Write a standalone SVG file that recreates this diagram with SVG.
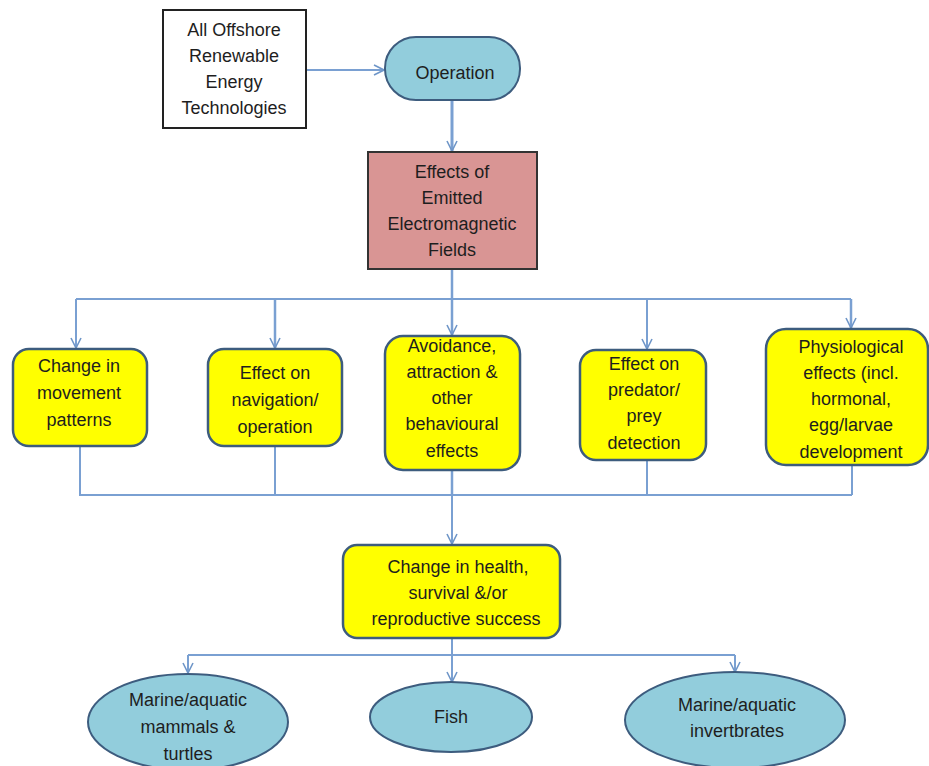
<svg xmlns="http://www.w3.org/2000/svg" width="929" height="766" viewBox="0 0 929 766">
<defs>
<marker id="arr" viewBox="0 0 12 12" refX="11" refY="6" markerWidth="12" markerHeight="12" markerUnits="userSpaceOnUse" orient="auto">
<path d="M1,1 L11,6 L1,11" fill="none" stroke="#6f96c8" stroke-width="1.6"/>
</marker>
<style>
.t{font-family:"Liberation Sans",Arial,sans-serif;font-size:18px;fill:#1e1e1e;text-anchor:middle}
.c{fill:none;stroke:#7aa0d2;stroke-width:2}
.y{fill:#ffff00;stroke:#3d5c7e;stroke-width:2.5}
.b{fill:#92cddc;stroke:#3d5c7e;stroke-width:2}
</style>
</defs>
<rect width="929" height="766" fill="#ffffff"/>
<g id="connectors">
<path class="c" d="M306,70 L384,70" marker-end="url(#arr)"/>
<path class="c" d="M452,100 L452,151" style="stroke-width:3" marker-end="url(#arr)"/>
<path class="c" d="M452,269 L452,299" style="stroke-width:2.5"/>
<path class="c" d="M76,299 L851,299"/>
<path class="c" d="M76,299 L76,348" marker-end="url(#arr)"/>
<path class="c" d="M275,299 L275,348" style="stroke-width:2.5" marker-end="url(#arr)"/>
<path class="c" d="M452,299 L452,335" style="stroke-width:2.5" marker-end="url(#arr)"/>
<path class="c" d="M647,299 L647,349" marker-end="url(#arr)"/>
<path class="c" d="M851,299 L851,328" style="stroke-width:2.5" marker-end="url(#arr)"/>
<path class="c" d="M80,446 L80,495 L852,495"/>
<path class="c" d="M275,446 L275,495"/>
<path class="c" d="M452,470 L452,495" style="stroke-width:2.5"/>
<path class="c" d="M647,460 L647,495"/>
<path class="c" d="M852,465 L852,495"/>
<path class="c" d="M452,495 L452,544" marker-end="url(#arr)"/>
<path class="c" d="M452,638 L452,682" marker-end="url(#arr)"/>
<path class="c" d="M188,655 L735,655"/>
<path class="c" d="M188,655 L188,673" marker-end="url(#arr)"/>
<path class="c" d="M735,655 L735,672" marker-end="url(#arr)"/>
</g>
<g id="n-tech">
<rect x="163" y="10" width="143" height="118" fill="#ffffff" stroke="#222" stroke-width="2"/>
<text class="t" x="234" y="36">All Offshore</text>
<text class="t" x="234" y="62">Renewable</text>
<text class="t" x="234" y="88">Energy</text>
<text class="t" x="234" y="114">Technologies</text>
</g>
<g id="n-operation">
<rect x="385" y="37" width="135" height="63" rx="31" ry="31" class="b"/>
<text class="t" x="455" y="79">Operation</text>
</g>
<g id="n-emf">
<rect x="368" y="152" width="169" height="117" fill="#d99594" stroke="#333" stroke-width="2"/>
<text class="t" x="452" y="178">Effects of</text>
<text class="t" x="452" y="204">Emitted</text>
<text class="t" x="452" y="230">Electromagnetic</text>
<text class="t" x="452" y="256">Fields</text>
</g>
<g id="n-movement">
<rect x="13" y="349" width="134" height="97" rx="16" class="y"/>
<text class="t" x="79" y="372">Change in</text>
<text class="t" x="79" y="399">movement</text>
<text class="t" x="79" y="426">patterns</text>
</g>
<g id="n-navigation">
<rect x="208" y="349" width="134" height="97" rx="16" class="y"/>
<text class="t" x="275" y="379">Effect on</text>
<text class="t" x="275" y="406">navigation/</text>
<text class="t" x="275" y="433">operation</text>
</g>
<g id="n-avoidance">
<rect x="385" y="336" width="135" height="134" rx="18" class="y"/>
<text class="t" x="452" y="352">Avoidance,</text>
<text class="t" x="452" y="378">attraction &amp;</text>
<text class="t" x="452" y="404">other</text>
<text class="t" x="452" y="430">behavioural</text>
<text class="t" x="452" y="457">effects</text>
</g>
<g id="n-predator">
<rect x="580" y="350" width="126" height="110" rx="16" class="y"/>
<text class="t" x="644" y="370">Effect on</text>
<text class="t" x="644" y="396">predator/</text>
<text class="t" x="644" y="422">prey</text>
<text class="t" x="644" y="449">detection</text>
</g>
<g id="n-physio">
<rect x="766" y="329" width="162" height="136" rx="20" class="y"/>
<text class="t" x="851" y="353">Physiological</text>
<text class="t" x="851" y="379">effects (incl.</text>
<text class="t" x="851" y="405">hormonal,</text>
<text class="t" x="851" y="431">egg/larvae</text>
<text class="t" x="851" y="458">development</text>
</g>
<g id="n-health">
<rect x="343" y="545" width="217" height="93" rx="14" class="y"/>
<text class="t" x="458" y="573">Change in health,</text>
<text class="t" x="458" y="599">survival &amp;/or</text>
<text class="t" x="456" y="625">reproductive success</text>
</g>
<g id="n-mammals">
<ellipse cx="188" cy="722" rx="100" ry="48" class="b"/>
<text class="t" x="188" y="706">Marine/aquatic</text>
<text class="t" x="188" y="733">mammals &amp;</text>
<text class="t" x="188" y="760">turtles</text>
</g>
<g id="n-fish">
<ellipse cx="451" cy="717" rx="81" ry="35" class="b"/>
<text class="t" x="451" y="723">Fish</text>
</g>
<g id="n-invert">
<ellipse cx="735" cy="720" rx="110" ry="48" class="b"/>
<text class="t" x="737" y="711">Marine/aquatic</text>
<text class="t" x="737" y="737">invertbrates</text>
</g>
</svg>
